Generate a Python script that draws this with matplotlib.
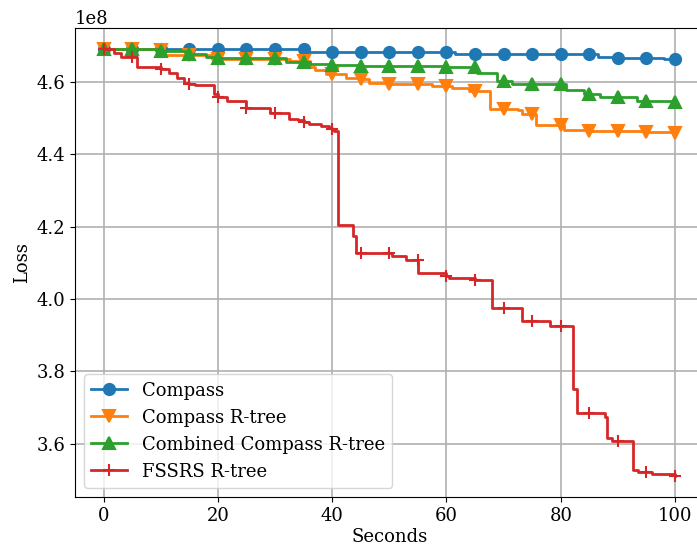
import numpy as np
import matplotlib
matplotlib.use('Agg')
import matplotlib.pyplot as plt

plt.rcParams['font.family'] = 'DejaVu Serif'
plt.rcParams['font.size'] = 13

# Step data (seconds, loss / 1e8)
compass_t = [0, 5, 10, 15, 20, 25, 30, 35, 36, 40, 45, 50, 55, 60, 61.5,
             65, 70, 75, 80, 85, 86.5, 90, 95, 98, 100]
compass_v = [4.690, 4.690, 4.690, 4.690, 4.690, 4.690, 4.690, 4.690, 4.682,
             4.682, 4.682, 4.682, 4.682, 4.682, 4.676, 4.676, 4.676, 4.676,
             4.676, 4.676, 4.668, 4.667, 4.665, 4.664, 4.663]

rtree_t = [0, 5, 10, 10.5, 15, 19, 20, 25, 30, 32.7, 35, 36.2, 37, 39, 40,
           42.5, 45, 46.5, 50, 55, 57.5, 60, 61, 64, 65, 67.7, 70, 72.5,
           73.3, 75, 75.7, 80, 80.5, 85, 90, 95, 100]
rtree_v = [4.690, 4.690, 4.688, 4.675, 4.674, 4.664, 4.663, 4.663, 4.663,
           4.658, 4.658, 4.640, 4.632, 4.621, 4.621, 4.612, 4.607, 4.598,
           4.595, 4.595, 4.588, 4.588, 4.584, 4.574, 4.574, 4.525, 4.525,
           4.522, 4.512, 4.512, 4.480, 4.480, 4.467, 4.465, 4.464, 4.462,
           4.458]

combined_t = [0, 5, 9.5, 10, 14.5, 15, 18, 20, 25, 30, 32, 35, 36.2, 40, 45,
              50, 55, 60, 62, 65, 65.3, 68.8, 70, 71.5, 75, 80, 80.9, 84, 85,
              86.8, 90, 93.4, 95, 100]
combined_v = [4.690, 4.690, 4.686, 4.686, 4.677, 4.677, 4.668, 4.666, 4.665,
              4.665, 4.655, 4.655, 4.649, 4.646, 4.645, 4.644, 4.643, 4.642,
              4.640, 4.640, 4.626, 4.603, 4.603, 4.594, 4.594, 4.594, 4.578,
              4.568, 4.568, 4.557, 4.557, 4.548, 4.548, 4.544]

fssrs_t = [0, 1.8, 3, 5, 5.9, 10, 11.4, 12.9, 14, 15, 16, 19.3, 20, 21.6, 23,
           25, 27, 29.2, 30, 32.5, 34, 35, 36, 38, 39.5, 40, 40.3, 41, 43.6,
           44.2, 45, 50, 50.5, 53, 55, 55.1, 60, 60.5, 65, 68, 70, 73.2, 75,
           78.1, 80, 82.2, 82.9, 85, 87.8, 88.1, 89, 90, 92.7, 93.5, 95, 96,
           100]
fssrs_v = [4.690, 4.681, 4.669, 4.669, 4.640, 4.637, 4.626, 4.612, 4.596,
           4.594, 4.592, 4.566, 4.557, 4.548, 4.546, 4.529, 4.527, 4.515,
           4.515, 4.497, 4.495, 4.490, 4.483, 4.477, 4.472, 4.469, 4.465,
           4.205, 4.175, 4.128, 4.128, 4.128, 4.119, 4.107, 4.107, 4.071,
           4.064, 4.058, 4.052, 3.975, 3.975, 3.940, 3.940, 3.926, 3.926,
           3.751, 3.685, 3.685, 3.673, 3.616, 3.608, 3.608, 3.527, 3.521,
           3.521, 3.516, 3.512]

series = [
    ('Compass', compass_t, compass_v, 'o', '#1f77b4'),
    ('Compass R-tree', rtree_t, rtree_v, 'v', '#ff7f0e'),
    ('Combined Compass R-tree', combined_t, combined_v, '^', '#2ca02c'),
    ('FSSRS R-tree', fssrs_t, fssrs_v, '+', '#d62728'),
]

fig = plt.figure(figsize=(6.97, 5.52), dpi=100)
ax = fig.add_axes([0.1076, 0.0996, 0.9019, 0.8496])

for label, t, v, marker, color in series:
    t = np.array(t)
    v = np.array(v) * 1e8
    # markers only every 5 seconds
    marks = [i for i, x in enumerate(t) if np.isclose(x % 5, 0)]
    ax.plot(t, v, drawstyle='steps-post', marker=marker, markevery=marks,
            color=color, lw=2, markersize=8, markeredgewidth=1.5, label=label)

ax.grid(True, color='#b0b0b0', lw=1.2)
ax.set_xlabel('Seconds', labelpad=2)
ax.set_ylabel('Loss', labelpad=4)
ax.legend(loc='lower left')

fig.savefig('out.png', dpi=100)
